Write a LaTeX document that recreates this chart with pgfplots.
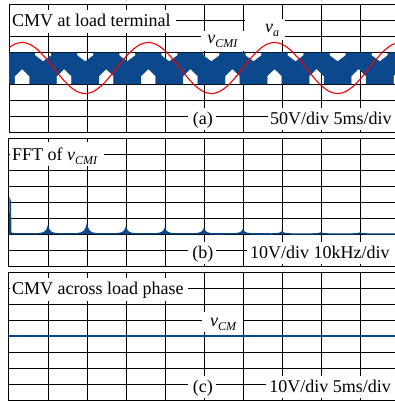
\documentclass[border=0pt]{standalone}
\usepackage{pgfplots}
\pgfplotsset{compat=1.18}
\usepackage{fontspec}
\setmainfont{Liberation Serif}
\definecolor{cmvblue}{RGB}{12,72,140}
\definecolor{vared}{RGB}{240,0,0}
\pgfplotsset{
  osc/.style={scale only axis, width=390bp, height=128bp, anchor=north west,
    xmin=0, xmax=10, ymin=-4, ymax=4,
    xtick={0,1,...,10}, ytick={-4,-3,...,4},
    xticklabels={}, yticklabels={}, major tick length=0pt, tick style={draw=none},
    grid=major, major grid style={black, line width=1bp},
    axis line style={black, line width=1bp}}
}
\tikzset{lbl/.style={font=\fontsize{18bp}{21bp}\selectfont, inner sep=0pt}}
\newcommand{\sub}[1]{{\fontsize{12bp}{12bp}\selectfont\itshape\raisebox{-4bp}{#1}}}
\begin{document}
\begin{tikzpicture}
% ---------------- panel (a)
\begin{axis}[osc, name=pa, at={(0bp,0bp)}]
\addplot[fill=cmvblue, draw=cmvblue, line width=0.4bp] coordinates {
(0,0.95)
(0.665,0.95) (0.665,0.78) (0.875,0.40) (1.085,0.78) (1.085,0.95)
(1.744,0.95) (1.744,0.78) (1.954,0.40) (2.164,0.78) (2.164,0.95)
(2.822,0.95) (2.822,0.78) (3.032,0.40) (3.242,0.78) (3.242,0.95)
(3.901,0.95) (3.901,0.78) (4.111,0.40) (4.321,0.78) (4.321,0.95)
(4.980,0.95) (4.980,0.78) (5.190,0.40) (5.400,0.78) (5.400,0.95)
(6.058,0.95) (6.058,0.78) (6.268,0.40) (6.478,0.78) (6.478,0.95)
(7.137,0.95) (7.137,0.78) (7.347,0.40) (7.557,0.78) (7.557,0.95)
(8.216,0.95) (8.216,0.78) (8.426,0.40) (8.636,0.78) (8.636,0.95)
(9.295,0.95) (9.295,0.78) (9.505,0.40) (9.715,0.78) (9.715,0.95)
(10.3,0.95) (10.3,-1.0)
(10.234,-1.0) (10.234,-0.5) (10.044,-0.05) (9.854,-0.5) (9.854,-1.0)
(9.155,-1.0) (9.155,-0.5) (8.965,-0.05) (8.775,-0.5) (8.775,-1.0)
(8.077,-1.0) (8.077,-0.5) (7.887,-0.05) (7.697,-0.5) (7.697,-1.0)
(6.998,-1.0) (6.998,-0.5) (6.808,-0.05) (6.618,-0.5) (6.618,-1.0)
(5.919,-1.0) (5.919,-0.5) (5.729,-0.05) (5.539,-0.5) (5.539,-1.0)
(4.841,-1.0) (4.841,-0.5) (4.651,-0.05) (4.461,-0.5) (4.461,-1.0)
(3.762,-1.0) (3.762,-0.5) (3.572,-0.05) (3.382,-0.5) (3.382,-1.0)
(2.683,-1.0) (2.683,-0.5) (2.493,-0.05) (2.303,-0.5) (2.303,-1.0)
(1.604,-1.0) (1.604,-0.5) (1.414,-0.05) (1.224,-0.5) (1.224,-1.0)
(0.526,-1.0) (0.526,-0.5) (0.336,-0.05) (0.146,-0.5) (0.146,-1.0)
(0,-1.0)
} -- cycle;
\addplot[vared, line width=1.1bp, smooth] coordinates {
(-0.0685,1.131) (0.1338,1.478) (0.3360,1.6) (0.5383,1.478) (0.7405,1.131)
(0.9428,0.612) (1.1450,0) (1.3473,-0.612) (1.5495,-1.131) (1.7518,-1.478)
(1.9540,-1.6) (2.1563,-1.478) (2.3585,-1.131) (2.5608,-0.612) (2.7630,0)
(2.9653,0.612) (3.1675,1.131) (3.3698,1.478) (3.5720,1.6) (3.7743,1.478)
(3.9765,1.131) (4.1788,0.612) (4.3810,0) (4.5833,-0.612) (4.7855,-1.131)
(4.9878,-1.478) (5.1900,-1.6) (5.3923,-1.478) (5.5945,-1.131) (5.7968,-0.612)
(5.9990,0) (6.2013,0.612) (6.4035,1.131) (6.6058,1.478) (6.8080,1.6)
(7.0103,1.478) (7.2125,1.131) (7.4148,0.612) (7.6170,0) (7.8193,-0.612)
(8.0215,-1.131) (8.2238,-1.478) (8.4260,-1.6) (8.6283,-1.478) (8.8305,-1.131)
(9.0328,-0.612) (9.2350,0) (9.4373,0.612) (9.6395,1.131) (9.8418,1.478)
(10.0440,1.6)
};
\fill[white] (axis cs:0.026,3.625) rectangle (axis cs:4.28,2.19);
\fill[white] (axis cs:4.59,-2.5) rectangle (axis cs:5.31,-3.875);
\fill[white] (axis cs:6.64,-2.5) rectangle (axis cs:10.3,-3.875);
\fill[white] (axis cs:4.92,2.31) rectangle (axis cs:6.05,1.06);
\fill[white] (axis cs:6.05,3.06) rectangle (axis cs:7.08,1.75);
\node[lbl, anchor=base west] at (axis cs:0.077,2.625) {CMV at load terminal};
\node[lbl, anchor=base] at (axis cs:4.97,-3.5) {(a)};
\node[lbl, anchor=base west] at (axis cs:6.69,-3.5) {50V/div 5ms/div};
\node[lbl, anchor=base west] at (axis cs:5.08,1.56) {\itshape v\sub{CMI}};
\node[lbl, anchor=base west] at (axis cs:6.56,2.25) {\itshape v\sub{a}};
\end{axis}
% ---------------- panel (b)
\begin{axis}[osc, name=pb, at={(0bp,-134bp)}]
\addplot[fill=cmvblue, draw=cmvblue, line width=1.3bp] coordinates {
(0,-2) (0.02,-2) (0.025,0.12) (0.035,0.05) (0.045,-1.9) (0.08,-1.97) (0.2,-1.99) (0.4,-1.985) (0.6,-1.99)
(0.74,-1.982) (0.85,-1.945) (0.92,-1.871) (0.96,-1.77) (0.985,-1.655) (1.0,-1.54) (1.015,-1.678) (1.04,-1.793) (1.08,-1.885) (1.15,-1.954) (1.26,-1.986)
(1.4,-1.99) (1.6,-1.985)
(1.74,-1.978) (1.85,-1.933) (1.92,-1.843) (1.96,-1.72) (1.985,-1.58) (2.0,-1.44) (2.015,-1.608) (2.04,-1.748) (2.08,-1.86) (2.15,-1.944) (2.26,-1.983)
(2.4,-1.99) (2.6,-1.985)
(2.74,-1.984) (2.85,-1.953) (2.92,-1.891) (2.96,-1.805) (2.985,-1.707) (3.0,-1.61) (3.015,-1.727) (3.04,-1.824) (3.08,-1.902) (3.15,-1.961) (3.26,-1.988)
(3.4,-1.99) (3.6,-1.987)
(3.74,-1.986) (3.85,-1.958) (3.92,-1.902) (3.96,-1.825) (3.985,-1.737) (4.0,-1.65) (4.015,-1.755) (4.04,-1.842) (4.08,-1.912) (4.15,-1.965) (4.26,-1.989)
(4.4,-1.99) (4.6,-1.988)
(4.74,-1.988) (4.85,-1.963) (4.92,-1.913) (4.96,-1.845) (4.985,-1.767) (5.0,-1.69) (5.015,-1.783) (5.04,-1.86) (5.08,-1.922) (5.15,-1.969) (5.26,-1.991)
(5.4,-1.992) (5.6,-1.99)
(5.74,-1.99) (5.85,-1.97) (5.92,-1.93) (5.96,-1.875) (5.985,-1.812) (6.0,-1.75) (6.015,-1.825) (6.04,-1.887) (6.08,-1.937) (6.15,-1.975) (6.26,-1.992)
(6.4,-1.993) (6.6,-1.992)
(6.74,-1.994) (6.85,-1.983) (6.92,-1.961) (6.96,-1.93) (6.985,-1.895) (7.0,-1.86) (7.015,-1.902) (7.04,-1.937) (7.08,-1.965) (7.15,-1.986) (7.26,-1.996)
(7.4,-1.995) (7.6,-1.994)
(7.74,-1.997) (7.85,-1.99) (7.92,-1.978) (7.96,-1.96) (7.985,-1.94) (8.0,-1.92) (8.015,-1.944) (8.04,-1.964) (8.08,-1.98) (8.15,-1.992) (8.26,-1.998)
(8.4,-1.996) (8.6,-1.995)
(8.74,-1.997) (8.85,-1.992) (8.92,-1.98) (8.96,-1.965) (8.985,-1.948) (9.0,-1.93) (9.015,-1.951) (9.04,-1.968) (9.08,-1.983) (9.15,-1.993) (9.26,-1.998)
(9.5,-1.996) (10,-1.997) (10,-2)
};
\fill[white] (axis cs:0.026,3.75) rectangle (axis cs:2.44,2.25);
\fill[white] (axis cs:4.59,-2.5) rectangle (axis cs:5.31,-3.875);
\fill[white] (axis cs:6.10,-2.5) rectangle (axis cs:10.3,-3.875);
\node[lbl, anchor=base west] at (axis cs:0.077,2.625) {FFT of {\itshape v\sub{CMI}}};
\node[lbl, anchor=base] at (axis cs:4.97,-3.5) {(b)};
\node[lbl, anchor=base west] at (axis cs:6.18,-3.5) {10V/div 10kHz/div};
\end{axis}
% ---------------- panel (c)
\begin{axis}[osc, name=pc, at={(0bp,-268bp)}]
\addplot[cmvblue, line width=1.8bp] coordinates {(0,0) (10,0)};
\fill[white] (axis cs:0.026,3.625) rectangle (axis cs:4.59,2.19);
\fill[white] (axis cs:4.95,1.5) rectangle (axis cs:6.0,0.25);
\fill[white] (axis cs:4.59,-2.5) rectangle (axis cs:5.31,-3.875);
\fill[white] (axis cs:6.59,-2.5) rectangle (axis cs:10.3,-3.875);
\node[lbl, anchor=base west] at (axis cs:0.077,2.625) {CMV across load phase};
\node[lbl, anchor=base west] at (axis cs:5.15,0.58) {\itshape v\sub{CM}};
\node[lbl, anchor=base] at (axis cs:4.97,-3.5) {(c)};
\node[lbl, anchor=base west] at (axis cs:6.67,-3.5) {10V/div 5ms/div};
\end{axis}
\pgfresetboundingbox
\path[use as bounding box] (-9bp,4bp) rectangle (386bp,-397bp);
\end{tikzpicture}
\end{document}
